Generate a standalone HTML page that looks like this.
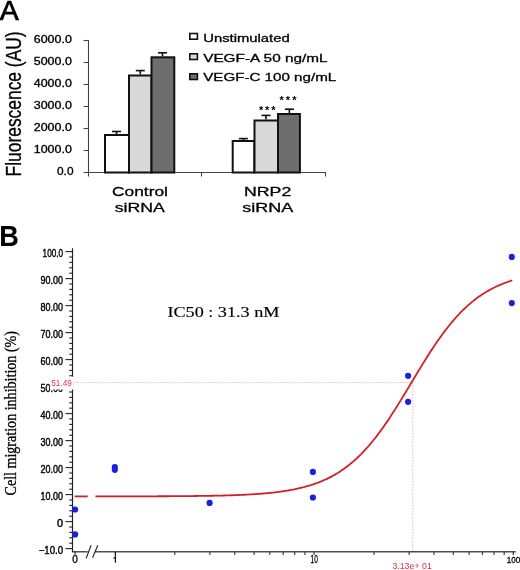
<!DOCTYPE html>
<html><head><meta charset="utf-8"><style>
html,body{margin:0;padding:0;background:#fff;}
svg{display:block;}
</style></head><body>
<svg width="520" height="570" viewBox="0 0 520 570" style="will-change:transform">
<rect width="520" height="570" fill="#fff"/>
<text x="-0.2" y="19.9" font-family='"Liberation Sans", sans-serif' font-size="27.5" textLength="19" lengthAdjust="spacingAndGlyphs" stroke="#000" stroke-width="0.7">A</text>
<text transform="translate(20.9,176.4) rotate(-90)" font-family='"Liberation Sans", sans-serif' font-size="22.5" textLength="145" lengthAdjust="spacingAndGlyphs" stroke="#000" stroke-width="0.3">Fluorescence (AU)</text>
<text x="57.00" y="175.10" font-family='"Liberation Sans", sans-serif' font-size="10" textLength="16.5" lengthAdjust="spacingAndGlyphs" stroke="#000" stroke-width="0.3">0.0</text>
<text x="33.80" y="153.10" font-family='"Liberation Sans", sans-serif' font-size="10" textLength="38.0" lengthAdjust="spacingAndGlyphs" stroke="#000" stroke-width="0.3">1000.0</text>
<text x="33.80" y="131.10" font-family='"Liberation Sans", sans-serif' font-size="10" textLength="38.0" lengthAdjust="spacingAndGlyphs" stroke="#000" stroke-width="0.3">2000.0</text>
<text x="33.80" y="109.10" font-family='"Liberation Sans", sans-serif' font-size="10" textLength="38.0" lengthAdjust="spacingAndGlyphs" stroke="#000" stroke-width="0.3">3000.0</text>
<text x="33.80" y="87.10" font-family='"Liberation Sans", sans-serif' font-size="10" textLength="38.0" lengthAdjust="spacingAndGlyphs" stroke="#000" stroke-width="0.3">4000.0</text>
<text x="33.80" y="65.10" font-family='"Liberation Sans", sans-serif' font-size="10" textLength="38.0" lengthAdjust="spacingAndGlyphs" stroke="#000" stroke-width="0.3">5000.0</text>
<text x="33.80" y="43.10" font-family='"Liberation Sans", sans-serif' font-size="10" textLength="38.0" lengthAdjust="spacingAndGlyphs" stroke="#000" stroke-width="0.3">6000.0</text>
<path d="M88.5,40 V172.5 H326" stroke="#444" stroke-width="1.1" fill="none"/>
<path d="M83.5,172.50 H88.5" stroke="#444" stroke-width="1.1"/>
<path d="M83.5,150.50 H88.5" stroke="#444" stroke-width="1.1"/>
<path d="M83.5,128.50 H88.5" stroke="#444" stroke-width="1.1"/>
<path d="M83.5,106.50 H88.5" stroke="#444" stroke-width="1.1"/>
<path d="M83.5,84.50 H88.5" stroke="#444" stroke-width="1.1"/>
<path d="M83.5,62.50 H88.5" stroke="#444" stroke-width="1.1"/>
<path d="M83.5,40.50 H88.5" stroke="#444" stroke-width="1.1"/>
<path d="M88.5,172.5 V176.5" stroke="#444" stroke-width="1.1"/>
<path d="M201.5,172.5 V176.5" stroke="#444" stroke-width="1.1"/>
<path d="M325.5,172.5 V176.5" stroke="#444" stroke-width="1.1"/>
<path d="M116.5,134.0 V131.5" stroke="#111" stroke-width="1.6"/>
<path d="M112.0,131.5 H121.0" stroke="#111" stroke-width="1.6"/>
<path d="M140.3,74.5 V70.6" stroke="#111" stroke-width="1.6"/>
<path d="M135.8,70.6 H144.8" stroke="#111" stroke-width="1.6"/>
<path d="M162.5,56.3 V52.8" stroke="#111" stroke-width="1.6"/>
<path d="M158.0,52.8 H167.0" stroke="#111" stroke-width="1.6"/>
<path d="M243.4,140.0 V138.6" stroke="#111" stroke-width="1.6"/>
<path d="M238.9,138.6 H247.9" stroke="#111" stroke-width="1.6"/>
<path d="M266.0,119.5 V115.4" stroke="#111" stroke-width="1.6"/>
<path d="M261.5,115.4 H270.5" stroke="#111" stroke-width="1.6"/>
<path d="M289.4,113.0 V109.2" stroke="#111" stroke-width="1.6"/>
<path d="M284.9,109.2 H293.9" stroke="#111" stroke-width="1.6"/>
<rect x="105.0" y="135.0" width="24.0" height="37.5" fill="#ffffff" stroke="#111" stroke-width="2"/>
<rect x="129.0" y="75.5" width="22.5" height="97.0" fill="#d9d9d9" stroke="#111" stroke-width="2"/>
<rect x="151.5" y="57.3" width="22.80000000000001" height="115.2" fill="#6e6e6e" stroke="#111" stroke-width="2"/>
<rect x="232.7" y="141.0" width="21.700000000000017" height="31.5" fill="#ffffff" stroke="#111" stroke-width="2"/>
<rect x="254.5" y="120.5" width="23.5" height="52.0" fill="#d9d9d9" stroke="#111" stroke-width="2"/>
<rect x="278.0" y="114.0" width="21.899999999999977" height="58.5" fill="#6e6e6e" stroke="#111" stroke-width="2"/>
<text x="261.2" y="114.0" text-anchor="middle" font-family='"Liberation Sans", sans-serif' font-size="11" font-weight="bold">*</text>
<text x="267.1" y="114.0" text-anchor="middle" font-family='"Liberation Sans", sans-serif' font-size="11" font-weight="bold">*</text>
<text x="273.4" y="114.0" text-anchor="middle" font-family='"Liberation Sans", sans-serif' font-size="11" font-weight="bold">*</text>
<text x="281.6" y="103.5" text-anchor="middle" font-family='"Liberation Sans", sans-serif' font-size="11" font-weight="bold">*</text>
<text x="287.9" y="103.5" text-anchor="middle" font-family='"Liberation Sans", sans-serif' font-size="11" font-weight="bold">*</text>
<text x="294.4" y="103.5" text-anchor="middle" font-family='"Liberation Sans", sans-serif' font-size="11" font-weight="bold">*</text>
<rect x="189.8" y="33.5" width="7.6" height="5.7" fill="#ffffff" stroke="#111" stroke-width="1.6"/>
<text x="203.2" y="41.5" font-family='"Liberation Sans", sans-serif' font-size="11.5" textLength="86.5" lengthAdjust="spacingAndGlyphs" stroke="#000" stroke-width="0.3">Unstimulated</text>
<rect x="189.8" y="53.8" width="7.6" height="5.7" fill="#d9d9d9" stroke="#111" stroke-width="1.6"/>
<text x="203.2" y="61.7" font-family='"Liberation Sans", sans-serif' font-size="11.5" textLength="124.3" lengthAdjust="spacingAndGlyphs" stroke="#000" stroke-width="0.3">VEGF-A 50 ng/mL</text>
<rect x="189.8" y="73.8" width="7.6" height="5.7" fill="#6e6e6e" stroke="#111" stroke-width="1.6"/>
<text x="203.2" y="81.3" font-family='"Liberation Sans", sans-serif' font-size="11.5" textLength="133.0" lengthAdjust="spacingAndGlyphs" stroke="#000" stroke-width="0.3">VEGF-C 100 ng/mL</text>
<text x="112" y="196" font-family='"Liberation Sans", sans-serif' font-size="13" textLength="56" lengthAdjust="spacingAndGlyphs" stroke="#000" stroke-width="0.3">Control</text>
<text x="114.7" y="212.4" font-family='"Liberation Sans", sans-serif' font-size="13" textLength="50.2" lengthAdjust="spacingAndGlyphs" stroke="#000" stroke-width="0.3">siRNA</text>
<text x="244" y="196" font-family='"Liberation Sans", sans-serif' font-size="13" textLength="47.3" lengthAdjust="spacingAndGlyphs" stroke="#000" stroke-width="0.3">NRP2</text>
<text x="242.3" y="212.4" font-family='"Liberation Sans", sans-serif' font-size="13" textLength="51" lengthAdjust="spacingAndGlyphs" stroke="#000" stroke-width="0.3">siRNA</text>
<text x="-0.8" y="245.8" font-family='"Liberation Sans", sans-serif' font-size="30" font-weight="bold" textLength="19.6" lengthAdjust="spacingAndGlyphs">B</text>
<text transform="translate(16.2,495.5) rotate(-90)" font-family='"Liberation Serif", serif' font-size="16" textLength="164.5" lengthAdjust="spacingAndGlyphs" stroke="#000" stroke-width="0.3">Cell migration inhibition (%)</text>
<path d="M73.5,382.58 H412.79 V551.8" stroke="#ec9aa2" stroke-width="1" stroke-dasharray="1.1 1.9" fill="none"/>
<path d="M72.5,551.8 H87.7 M95.1,551.8 H515.7" stroke="#505050" stroke-width="1.6" fill="none"/>
<path d="M72.5,248.2 V552.3" stroke="#222" stroke-width="1.2" fill="none"/>
<path d="M65.5,548.60 H72.5" stroke="#222" stroke-width="1.1"/>
<path d="M69.2,543.20 H72.5" stroke="#222" stroke-width="1.1"/>
<path d="M69.2,537.80 H72.5" stroke="#222" stroke-width="1.1"/>
<path d="M69.2,532.40 H72.5" stroke="#222" stroke-width="1.1"/>
<path d="M69.2,527.00 H72.5" stroke="#222" stroke-width="1.1"/>
<path d="M65.5,521.60 H72.5" stroke="#222" stroke-width="1.1"/>
<path d="M69.2,516.20 H72.5" stroke="#222" stroke-width="1.1"/>
<path d="M69.2,510.80 H72.5" stroke="#222" stroke-width="1.1"/>
<path d="M69.2,505.40 H72.5" stroke="#222" stroke-width="1.1"/>
<path d="M69.2,500.00 H72.5" stroke="#222" stroke-width="1.1"/>
<path d="M65.5,494.60 H72.5" stroke="#222" stroke-width="1.1"/>
<path d="M69.2,489.20 H72.5" stroke="#222" stroke-width="1.1"/>
<path d="M69.2,483.80 H72.5" stroke="#222" stroke-width="1.1"/>
<path d="M69.2,478.40 H72.5" stroke="#222" stroke-width="1.1"/>
<path d="M69.2,473.00 H72.5" stroke="#222" stroke-width="1.1"/>
<path d="M65.5,467.60 H72.5" stroke="#222" stroke-width="1.1"/>
<path d="M69.2,462.20 H72.5" stroke="#222" stroke-width="1.1"/>
<path d="M69.2,456.80 H72.5" stroke="#222" stroke-width="1.1"/>
<path d="M69.2,451.40 H72.5" stroke="#222" stroke-width="1.1"/>
<path d="M69.2,446.00 H72.5" stroke="#222" stroke-width="1.1"/>
<path d="M65.5,440.60 H72.5" stroke="#222" stroke-width="1.1"/>
<path d="M69.2,435.20 H72.5" stroke="#222" stroke-width="1.1"/>
<path d="M69.2,429.80 H72.5" stroke="#222" stroke-width="1.1"/>
<path d="M69.2,424.40 H72.5" stroke="#222" stroke-width="1.1"/>
<path d="M69.2,419.00 H72.5" stroke="#222" stroke-width="1.1"/>
<path d="M65.5,413.60 H72.5" stroke="#222" stroke-width="1.1"/>
<path d="M69.2,408.20 H72.5" stroke="#222" stroke-width="1.1"/>
<path d="M69.2,402.80 H72.5" stroke="#222" stroke-width="1.1"/>
<path d="M69.2,397.40 H72.5" stroke="#222" stroke-width="1.1"/>
<path d="M69.2,392.00 H72.5" stroke="#222" stroke-width="1.1"/>
<path d="M65.5,386.60 H72.5" stroke="#222" stroke-width="1.1"/>
<path d="M69.2,381.20 H72.5" stroke="#222" stroke-width="1.1"/>
<path d="M69.2,375.80 H72.5" stroke="#222" stroke-width="1.1"/>
<path d="M69.2,370.40 H72.5" stroke="#222" stroke-width="1.1"/>
<path d="M69.2,365.00 H72.5" stroke="#222" stroke-width="1.1"/>
<path d="M65.5,359.60 H72.5" stroke="#222" stroke-width="1.1"/>
<path d="M69.2,354.20 H72.5" stroke="#222" stroke-width="1.1"/>
<path d="M69.2,348.80 H72.5" stroke="#222" stroke-width="1.1"/>
<path d="M69.2,343.40 H72.5" stroke="#222" stroke-width="1.1"/>
<path d="M69.2,338.00 H72.5" stroke="#222" stroke-width="1.1"/>
<path d="M65.5,332.60 H72.5" stroke="#222" stroke-width="1.1"/>
<path d="M69.2,327.20 H72.5" stroke="#222" stroke-width="1.1"/>
<path d="M69.2,321.80 H72.5" stroke="#222" stroke-width="1.1"/>
<path d="M69.2,316.40 H72.5" stroke="#222" stroke-width="1.1"/>
<path d="M69.2,311.00 H72.5" stroke="#222" stroke-width="1.1"/>
<path d="M65.5,305.60 H72.5" stroke="#222" stroke-width="1.1"/>
<path d="M69.2,300.20 H72.5" stroke="#222" stroke-width="1.1"/>
<path d="M69.2,294.80 H72.5" stroke="#222" stroke-width="1.1"/>
<path d="M69.2,289.40 H72.5" stroke="#222" stroke-width="1.1"/>
<path d="M69.2,284.00 H72.5" stroke="#222" stroke-width="1.1"/>
<path d="M65.5,278.60 H72.5" stroke="#222" stroke-width="1.1"/>
<path d="M69.2,273.20 H72.5" stroke="#222" stroke-width="1.1"/>
<path d="M69.2,267.80 H72.5" stroke="#222" stroke-width="1.1"/>
<path d="M69.2,262.40 H72.5" stroke="#222" stroke-width="1.1"/>
<path d="M69.2,257.00 H72.5" stroke="#222" stroke-width="1.1"/>
<path d="M65.5,251.60 H72.5" stroke="#222" stroke-width="1.1"/>
<path d="M86.2,558.2 L91.1,545.2 M92.6,557.8 L97.8,545.2" stroke="#222" stroke-width="1.1"/>
<text x="42.60" y="256.60" font-family='"Liberation Sans", sans-serif' font-size="10.6" textLength="20.4" lengthAdjust="spacingAndGlyphs" stroke="#000" stroke-width="0.4">100.0</text>
<text x="40.50" y="283.60" font-family='"Liberation Sans", sans-serif' font-size="10.6" textLength="22.5" lengthAdjust="spacingAndGlyphs" stroke="#000" stroke-width="0.4">90.00</text>
<text x="40.50" y="310.60" font-family='"Liberation Sans", sans-serif' font-size="10.6" textLength="22.5" lengthAdjust="spacingAndGlyphs" stroke="#000" stroke-width="0.4">80.00</text>
<text x="40.50" y="337.60" font-family='"Liberation Sans", sans-serif' font-size="10.6" textLength="22.5" lengthAdjust="spacingAndGlyphs" stroke="#000" stroke-width="0.4">70.00</text>
<text x="40.50" y="364.60" font-family='"Liberation Sans", sans-serif' font-size="10.6" textLength="22.5" lengthAdjust="spacingAndGlyphs" stroke="#000" stroke-width="0.4">60.00</text>
<text x="40.50" y="391.60" font-family='"Liberation Sans", sans-serif' font-size="10.6" textLength="22.5" lengthAdjust="spacingAndGlyphs" stroke="#000" stroke-width="0.4">50.00</text>
<text x="40.50" y="418.60" font-family='"Liberation Sans", sans-serif' font-size="10.6" textLength="22.5" lengthAdjust="spacingAndGlyphs" stroke="#000" stroke-width="0.4">40.00</text>
<text x="40.50" y="445.60" font-family='"Liberation Sans", sans-serif' font-size="10.6" textLength="22.5" lengthAdjust="spacingAndGlyphs" stroke="#000" stroke-width="0.4">30.00</text>
<text x="40.50" y="472.60" font-family='"Liberation Sans", sans-serif' font-size="10.6" textLength="22.5" lengthAdjust="spacingAndGlyphs" stroke="#000" stroke-width="0.4">20.00</text>
<text x="40.50" y="499.60" font-family='"Liberation Sans", sans-serif' font-size="10.6" textLength="22.5" lengthAdjust="spacingAndGlyphs" stroke="#000" stroke-width="0.4">10.00</text>
<text x="56.90" y="526.60" font-family='"Liberation Sans", sans-serif' font-size="10.6" textLength="6.1" lengthAdjust="spacingAndGlyphs" stroke="#000" stroke-width="0.4">0</text>
<text x="38.70" y="553.60" font-family='"Liberation Sans", sans-serif' font-size="10.6" textLength="24.3" lengthAdjust="spacingAndGlyphs" stroke="#000" stroke-width="0.4">−10.0</text>
<path d="M75.1,551.8 V554.5" stroke="#222" stroke-width="1.1"/>
<path d="M174.78,551.8 V555" stroke="#333" stroke-width="1.1"/>
<path d="M209.87,551.8 V555" stroke="#333" stroke-width="1.1"/>
<path d="M234.76,551.8 V555" stroke="#333" stroke-width="1.1"/>
<path d="M254.07,551.8 V555" stroke="#333" stroke-width="1.1"/>
<path d="M269.85,551.8 V555" stroke="#333" stroke-width="1.1"/>
<path d="M283.19,551.8 V555" stroke="#333" stroke-width="1.1"/>
<path d="M294.74,551.8 V555" stroke="#333" stroke-width="1.1"/>
<path d="M304.93,551.8 V555" stroke="#333" stroke-width="1.1"/>
<path d="M314.05,551.8 V555" stroke="#333" stroke-width="1.1"/>
<path d="M374.03,551.8 V555" stroke="#333" stroke-width="1.1"/>
<path d="M409.12,551.8 V555" stroke="#333" stroke-width="1.1"/>
<path d="M434.01,551.8 V555" stroke="#333" stroke-width="1.1"/>
<path d="M453.32,551.8 V555" stroke="#333" stroke-width="1.1"/>
<path d="M469.10,551.8 V555" stroke="#333" stroke-width="1.1"/>
<path d="M482.44,551.8 V555" stroke="#333" stroke-width="1.1"/>
<path d="M493.99,551.8 V555" stroke="#333" stroke-width="1.1"/>
<path d="M504.18,551.8 V555" stroke="#333" stroke-width="1.1"/>
<path d="M513.30,551.8 V555" stroke="#222" stroke-width="1.1"/>
<text x="72.3" y="563.4" font-family='"Liberation Sans", sans-serif' font-size="10.5" textLength="5.6" lengthAdjust="spacingAndGlyphs" stroke="#000" stroke-width="0.3">0</text>
<path d="M115.4,552 V562.7 M115.4,557.6 L113.6,558.4" stroke="#1a1a1a" stroke-width="1.3" fill="none"/>
<text x="310.6" y="563.4" font-family='"Liberation Sans", sans-serif' font-size="10" textLength="7.2" lengthAdjust="spacingAndGlyphs" stroke="#000" stroke-width="0.3">10</text>
<text x="506.8" y="562.9" font-family='"Liberation Sans", sans-serif' font-size="9.5" textLength="13.5" lengthAdjust="spacingAndGlyphs" stroke="#000" stroke-width="0.3">100</text>
<text x="392.4" y="569.1" fill="#e0303f" font-family='"Liberation Sans", sans-serif' font-size="9" textLength="39.4" lengthAdjust="spacingAndGlyphs">3.13e+ 01</text>
<rect x="50" y="376.7" width="23.6" height="12.8" fill="#fff"/>
<text x="51.3" y="386.3" fill="#e03445" font-family='"Liberation Sans", sans-serif' font-size="9.6" textLength="20.6" lengthAdjust="spacingAndGlyphs">51.49</text>
<path d="M74.6,496.41 H87.7" stroke="#d22028" stroke-width="1.8" fill="none"/>
<path d="M95.40,496.39 L96.40,496.39 L97.40,496.39 L98.40,496.39 L99.40,496.39 L100.40,496.38 L101.40,496.38 L102.40,496.38 L103.40,496.38 L104.40,496.38 L105.40,496.38 L106.40,496.38 L107.40,496.38 L108.40,496.38 L109.40,496.38 L110.40,496.38 L111.40,496.38 L112.40,496.37 L113.40,496.37 L114.40,496.37 L115.40,496.37 L116.40,496.37 L117.40,496.37 L118.40,496.37 L119.40,496.37 L120.40,496.36 L121.40,496.36 L122.40,496.36 L123.40,496.36 L124.40,496.36 L125.40,496.36 L126.40,496.36 L127.40,496.35 L128.40,496.35 L129.40,496.35 L130.40,496.35 L131.40,496.35 L132.40,496.35 L133.40,496.34 L134.40,496.34 L135.40,496.34 L136.40,496.34 L137.40,496.34 L138.40,496.33 L139.40,496.33 L140.40,496.33 L141.40,496.33 L142.40,496.32 L143.40,496.32 L144.40,496.32 L145.40,496.32 L146.40,496.31 L147.40,496.31 L148.40,496.31 L149.40,496.31 L150.40,496.30 L151.40,496.30 L152.40,496.30 L153.40,496.29 L154.40,496.29 L155.40,496.29 L156.40,496.28 L157.40,496.28 L158.40,496.27 L159.40,496.27 L160.40,496.27 L161.40,496.26 L162.40,496.26 L163.40,496.25 L164.40,496.25 L165.40,496.24 L166.40,496.24 L167.40,496.23 L168.40,496.23 L169.40,496.22 L170.40,496.22 L171.40,496.21 L172.40,496.21 L173.40,496.20 L174.40,496.19 L175.40,496.19 L176.40,496.18 L177.40,496.17 L178.40,496.17 L179.40,496.16 L180.40,496.15 L181.40,496.14 L182.40,496.14 L183.40,496.13 L184.40,496.12 L185.40,496.11 L186.40,496.10 L187.40,496.09 L188.40,496.08 L189.40,496.07 L190.40,496.06 L191.40,496.05 L192.40,496.04 L193.40,496.03 L194.40,496.02 L195.40,496.01 L196.40,496.00 L197.40,495.99 L198.40,495.97 L199.40,495.96 L200.40,495.95 L201.40,495.93 L202.40,495.92 L203.40,495.90 L204.40,495.89 L205.40,495.87 L206.40,495.86 L207.40,495.84 L208.40,495.82 L209.40,495.81 L210.40,495.79 L211.40,495.77 L212.40,495.75 L213.40,495.73 L214.40,495.71 L215.40,495.69 L216.40,495.67 L217.40,495.65 L218.40,495.63 L219.40,495.60 L220.40,495.58 L221.40,495.55 L222.40,495.53 L223.40,495.50 L224.40,495.48 L225.40,495.45 L226.40,495.42 L227.40,495.39 L228.40,495.36 L229.40,495.33 L230.40,495.30 L231.40,495.26 L232.40,495.23 L233.40,495.19 L234.40,495.16 L235.40,495.12 L236.40,495.08 L237.40,495.04 L238.40,495.00 L239.40,494.96 L240.40,494.92 L241.40,494.87 L242.40,494.83 L243.40,494.78 L244.40,494.73 L245.40,494.68 L246.40,494.63 L247.40,494.58 L248.40,494.53 L249.40,494.47 L250.40,494.41 L251.40,494.36 L252.40,494.29 L253.40,494.23 L254.40,494.17 L255.40,494.10 L256.40,494.03 L257.40,493.96 L258.40,493.89 L259.40,493.82 L260.40,493.74 L261.40,493.66 L262.40,493.58 L263.40,493.50 L264.40,493.41 L265.40,493.32 L266.40,493.23 L267.40,493.14 L268.40,493.04 L269.40,492.95 L270.40,492.84 L271.40,492.74 L272.40,492.63 L273.40,492.52 L274.40,492.41 L275.40,492.29 L276.40,492.17 L277.40,492.05 L278.40,491.92 L279.40,491.79 L280.40,491.65 L281.40,491.51 L282.40,491.37 L283.40,491.22 L284.40,491.07 L285.40,490.92 L286.40,490.76 L287.40,490.59 L288.40,490.43 L289.40,490.25 L290.40,490.07 L291.40,489.89 L292.40,489.70 L293.40,489.51 L294.40,489.31 L295.40,489.10 L296.40,488.89 L297.40,488.68 L298.40,488.45 L299.40,488.23 L300.40,487.99 L301.40,487.75 L302.40,487.50 L303.40,487.25 L304.40,486.99 L305.40,486.72 L306.40,486.44 L307.40,486.16 L308.40,485.87 L309.40,485.57 L310.40,485.26 L311.40,484.94 L312.40,484.62 L313.40,484.29 L314.40,483.94 L315.40,483.59 L316.40,483.23 L317.40,482.87 L318.40,482.49 L319.40,482.10 L320.40,481.70 L321.40,481.29 L322.40,480.87 L323.40,480.44 L324.40,480.00 L325.40,479.54 L326.40,479.08 L327.40,478.60 L328.40,478.12 L329.40,477.62 L330.40,477.10 L331.40,476.58 L332.40,476.04 L333.40,475.49 L334.40,474.92 L335.40,474.35 L336.40,473.75 L337.40,473.15 L338.40,472.53 L339.40,471.89 L340.40,471.24 L341.40,470.58 L342.40,469.90 L343.40,469.20 L344.40,468.49 L345.40,467.76 L346.40,467.02 L347.40,466.26 L348.40,465.48 L349.40,464.69 L350.40,463.88 L351.40,463.05 L352.40,462.21 L353.40,461.35 L354.40,460.47 L355.40,459.57 L356.40,458.65 L357.40,457.72 L358.40,456.77 L359.40,455.80 L360.40,454.81 L361.40,453.80 L362.40,452.77 L363.40,451.73 L364.40,450.67 L365.40,449.58 L366.40,448.48 L367.40,447.36 L368.40,446.22 L369.40,445.07 L370.40,443.89 L371.40,442.69 L372.40,441.48 L373.40,440.25 L374.40,439.00 L375.40,437.73 L376.40,436.44 L377.40,435.13 L378.40,433.81 L379.40,432.47 L380.40,431.11 L381.40,429.74 L382.40,428.35 L383.40,426.94 L384.40,425.51 L385.40,424.07 L386.40,422.62 L387.40,421.15 L388.40,419.66 L389.40,418.16 L390.40,416.65 L391.40,415.12 L392.40,413.58 L393.40,412.03 L394.40,410.47 L395.40,408.89 L396.40,407.31 L397.40,405.71 L398.40,404.11 L399.40,402.49 L400.40,400.87 L401.40,399.24 L402.40,397.60 L403.40,395.96 L404.40,394.31 L405.40,392.66 L406.40,391.00 L407.40,389.34 L408.40,387.68 L409.40,386.01 L410.40,384.35 L411.40,382.68 L412.40,381.01 L413.40,379.34 L414.40,377.68 L415.40,376.01 L416.40,374.35 L417.40,372.70 L418.40,371.05 L419.40,369.40 L420.40,367.76 L421.40,366.12 L422.40,364.49 L423.40,362.87 L424.40,361.26 L425.40,359.66 L426.40,358.06 L427.40,356.48 L428.40,354.91 L429.40,353.35 L430.40,351.80 L431.40,350.26 L432.40,348.74 L433.40,347.23 L434.40,345.73 L435.40,344.25 L436.40,342.78 L437.40,341.33 L438.40,339.89 L439.40,338.47 L440.40,337.06 L441.40,335.67 L442.40,334.30 L443.40,332.95 L444.40,331.61 L445.40,330.29 L446.40,328.99 L447.40,327.71 L448.40,326.44 L449.40,325.19 L450.40,323.96 L451.40,322.75 L452.40,321.56 L453.40,320.39 L454.40,319.24 L455.40,318.10 L456.40,316.98 L457.40,315.89 L458.40,314.81 L459.40,313.75 L460.40,312.71 L461.40,311.68 L462.40,310.68 L463.40,309.70 L464.40,308.73 L465.40,307.78 L466.40,306.85 L467.40,305.94 L468.40,305.04 L469.40,304.17 L470.40,303.31 L471.40,302.47 L472.40,301.64 L473.40,300.84 L474.40,300.05 L475.40,299.27 L476.40,298.52 L477.40,297.78 L478.40,297.05 L479.40,296.35 L480.40,295.65 L481.40,294.98 L482.40,294.31 L483.40,293.67 L484.40,293.04 L485.40,292.42 L486.40,291.81 L487.40,291.23 L488.40,290.65 L489.40,290.09 L490.40,289.54 L491.40,289.00 L492.40,288.48 L493.40,287.97 L494.40,287.47 L495.40,286.99 L496.40,286.51 L497.40,286.05 L498.40,285.60 L499.40,285.16 L500.40,284.73 L501.40,284.32 L502.40,283.91 L503.40,283.51 L504.40,283.12 L505.40,282.75 L506.40,282.38 L507.40,282.02 L508.40,281.67 L509.40,281.33 L510.40,281.00 L511.40,280.68 L512.30,280.40" stroke="#d22028" stroke-width="1.8" fill="none"/>
<circle cx="75.1" cy="509.5" r="3.1" fill="#1c1ee2"/>
<circle cx="75.1" cy="534.4" r="3.1" fill="#1c1ee2"/>
<circle cx="114.8" cy="467.0" r="3.1" fill="#1c1ee2"/>
<circle cx="114.8" cy="469.8" r="3.1" fill="#1c1ee2"/>
<circle cx="209.6" cy="502.9" r="3.1" fill="#1c1ee2"/>
<circle cx="312.9" cy="471.9" r="3.1" fill="#1c1ee2"/>
<circle cx="312.9" cy="497.5" r="3.1" fill="#1c1ee2"/>
<circle cx="408.1" cy="375.8" r="3.1" fill="#1c1ee2"/>
<circle cx="408.1" cy="401.8" r="3.1" fill="#1c1ee2"/>
<circle cx="511.8" cy="256.9" r="3.1" fill="#1c1ee2"/>
<circle cx="511.8" cy="303.1" r="3.1" fill="#1c1ee2"/>
<text x="167.4" y="316.7" font-family='"Liberation Serif", serif' font-size="14.2" textLength="112" lengthAdjust="spacingAndGlyphs" stroke="#000" stroke-width="0.15">IC50 : 31.3 nM</text>
</svg>
</body></html>
